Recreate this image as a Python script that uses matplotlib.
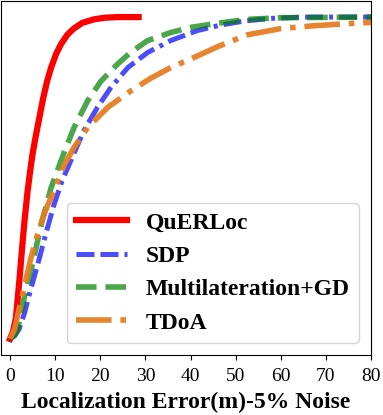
import matplotlib.pyplot as plt

# === DATA (CDF of localization error) ===
querloc_x = [0, 0.7, 1.3, 2.0, 2.6, 3.2, 3.9, 4.5, 5.0, 5.7, 6.4, 7.3, 8.2, 9.1, 10.2, 11.3, 12.7, 14.1, 16, 18.6, 21, 23.8, 28.5]
querloc_y = [0, 0.025, 0.065, 0.17, 0.27, 0.365, 0.46, 0.525, 0.575, 0.63, 0.68, 0.745, 0.80, 0.843, 0.885, 0.916, 0.945, 0.964, 0.982, 0.993, 0.998, 1.0, 1.0]

sdp_x = [0, 1, 2, 3.2, 4.5, 6.2, 8, 9.7, 11.5, 13.5, 16.4, 19.4, 22.3, 26.1, 30.5, 35.6, 41.5, 46.6, 52, 58, 65, 80]
sdp_y = [0, 0.01, 0.03, 0.08, 0.15, 0.235, 0.33, 0.415, 0.49, 0.555, 0.648, 0.72, 0.78, 0.843, 0.89, 0.927, 0.958, 0.975, 0.988, 0.996, 1.0, 1.0]

mgd_x = [0, 1, 1.7, 2.4, 3.5, 5, 7, 9.1, 11.9, 14.2, 17.2, 20.1, 23.9, 26.7, 30.5, 35.6, 40, 46.6, 52.6, 60, 80]
mgd_y = [0, 0.01, 0.03, 0.08, 0.15, 0.235, 0.36, 0.47, 0.576, 0.657, 0.74, 0.80, 0.855, 0.89, 0.927, 0.952, 0.968, 0.982, 0.993, 0.998, 1.0]

tdoa_x = [0, 1, 2.1, 3.3, 4.6, 6, 7.6, 9.7, 12, 14.2, 17.2, 21.7, 26.7, 31.2, 35.6, 40.7, 46, 52.6, 59.9, 67.2, 77.6, 80]
tdoa_y = [0, 0.03, 0.10, 0.17, 0.25, 0.32, 0.39, 0.46, 0.54, 0.595, 0.657, 0.72, 0.77, 0.81, 0.843, 0.874, 0.908, 0.945, 0.964, 0.973, 0.982, 0.983]

XTICKS = [0, 10, 20, 30, 40, 50, 60, 70, 80]

plt.rcParams['font.family'] = ['Liberation Serif', 'DejaVu Serif']

fig = plt.figure(figsize=(3.83, 4.15), dpi=100)
ax = fig.add_axes([1 / 383, 1 - 355 / 415, 370 / 383, 354 / 415])

ax.plot(querloc_x, querloc_y, color='red', lw=4.5, label='QuERLoc')
ax.plot(sdp_x, sdp_y, color='blue', alpha=0.7, lw=3.6,
        dashes=(3.6, 1.2, 3.6, 1.2, 0.8, 1.2), label='SDP')
ax.plot(mgd_x, mgd_y, color='green', alpha=0.7, lw=4, ls='--', label='Multilateration+GD')
ax.plot(tdoa_x, tdoa_y, color='#e67e22', alpha=0.95, lw=4, ls='-.', label='TDoA')

ax.set_xlim(-2, 80)
ax.set_ylim(-0.05, 1.05)
ax.set_xticks(XTICKS)
ax.set_yticks([])
ax.tick_params(axis='x', labelsize=14, pad=5.5)
ax.set_xlabel('Localization Error(m)-5% Noise', fontsize=17, fontweight='bold', labelpad=5)

ax.legend(loc='lower right', prop={'size': 17, 'weight': 'bold'}, handlelength=2.15)

fig.savefig('out.png', dpi=100)
